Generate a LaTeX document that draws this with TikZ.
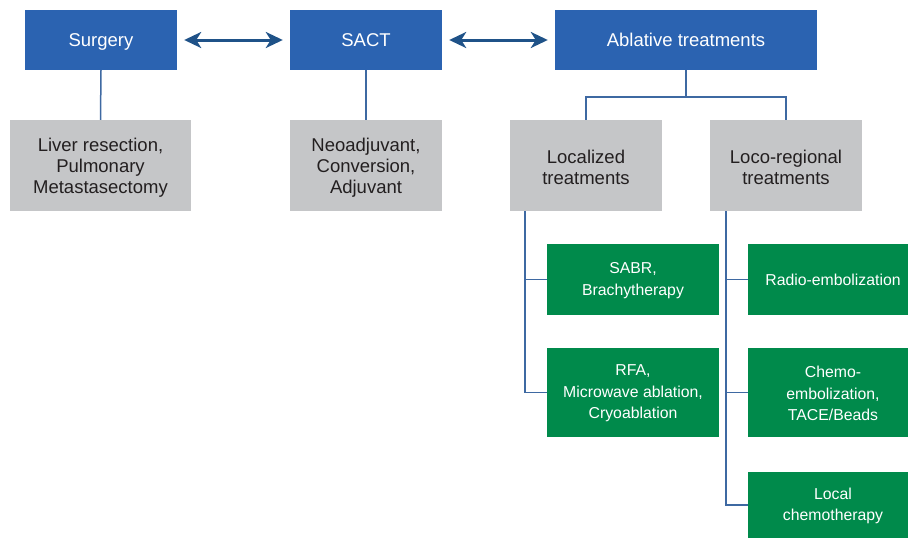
\documentclass[tikz,border=0pt]{standalone}
\usepackage{fontspec}
\setmainfont{Liberation Sans}
\usetikzlibrary{arrows.meta}
\definecolor{boxblue}{HTML}{2B63B1}
\definecolor{boxgray}{HTML}{C5C6C8}
\definecolor{boxgreen}{HTML}{008A4B}
\definecolor{linkblue}{HTML}{3E69A2}
\definecolor{arrblue}{HTML}{1F5288}
\definecolor{txtdark}{HTML}{231F20}
\tikzset{
  bluebox/.style={fill=boxblue, inner sep=0pt},
  graybox/.style={fill=boxgray, inner sep=0pt},
  greenbox/.style={fill=boxgreen, inner sep=0pt},
  bluetxt/.style={text=white, inner sep=0pt, text height=13.4pt, text depth=0pt,
    font=\fontsize{18.5}{21}\selectfont},
  graytxt/.style={text=txtdark, align=center, inner sep=0pt, yshift=-2pt,
    font=\fontsize{18.5}{21}\selectfont},
  greentxt/.style={text=white, align=center, inner sep=0pt, yshift=-1pt,
    font=\fontsize{15.8}{21.5}\selectfont},
  conn/.style={draw=linkblue, line width=1.5pt},
  dblarr/.style={draw=arrblue, line width=3pt,
    {Stealth[length=17pt,width=16pt,inset=5pt]}-{Stealth[length=17pt,width=16pt,inset=5pt]},
    shorten <=7pt, shorten >=7pt}
}
\begin{document}
\begin{tikzpicture}[x=1pt,y=-1pt]
\useasboundingbox (0,0) rectangle (908,538);
% top row
\node[bluebox, minimum width=152, minimum height=60,
  label={[bluetxt]center:Surgery}] (surg) at (101,40) {};
\node[bluebox, minimum width=152, minimum height=60,
  label={[bluetxt]center:SACT}] (sact) at (366,40) {};
\node[bluebox, minimum width=262, minimum height=60,
  label={[bluetxt]center:Ablative treatments}] (abl) at (686,40) {};
% gray row
\node[graybox, minimum width=181, minimum height=91,
  label={[graytxt]center:{Liver resection,\\Pulmonary\\Metastasectomy}}] (liver) at (100.5,165.5) {};
\node[graybox, minimum width=152, minimum height=91,
  label={[graytxt]center:{Neoadjuvant,\\Conversion,\\Adjuvant}}] (neo) at (366,165.5) {};
\node[graybox, minimum width=152, minimum height=91,
  label={[graytxt]center:{Localized\\treatments}}] (loc) at (586,165.5) {};
\node[graybox, minimum width=152, minimum height=91,
  label={[graytxt]center:{Loco-regional\\treatments}}] (loco) at (786,165.5) {};
% green boxes
\node[greenbox, minimum width=172, minimum height=71,
  label={[greentxt]center:{SABR,\\Brachytherapy}}] (sabr) at (633,279.5) {};
\node[greenbox, minimum width=172, minimum height=89,
  label={[greentxt]center:{RFA,\\Microwave ablation,\\Cryoablation}}] (rfa) at (633,392.5) {};
\node[greenbox, minimum width=160, minimum height=71,
  label={[greentxt, xshift=5pt, yshift=1pt]center:{Radio-embolization}}] (radio) at (828,279.5) {};
\node[greenbox, minimum width=160, minimum height=89,
  label={[greentxt, xshift=5pt]center:{Chemo-\\embolization,\\TACE/Beads}}] (chemo) at (828,392.5) {};
\node[greenbox, minimum width=160, minimum height=66,
  label={[greentxt, xshift=5pt]center:{Local\\chemotherapy}}] (localc) at (828,505) {};
% arrows
\draw[dblarr] (surg.east) -- (sact.west);
\draw[dblarr] (sact.east) -- (abl.west);
% connectors
\draw[conn] (surg.south) -- (liver.north);
\draw[conn] (sact.south) -- (neo.north);
\draw[conn] (abl.south) -- ++(0,27) coordinate (split);
\draw[conn] (loc.north) |- (split) -| (loco.north);
\coordinate (t1) at ([xshift=15pt]loc.south west);
\coordinate (t2) at ([xshift=16pt]loco.south west);
\draw[conn] (t1) |- (sabr.west);
\draw[conn] (t1) |- (rfa.west);
\draw[conn] (t2) |- (radio.west);
\draw[conn] (t2) |- (chemo.west);
\draw[conn] (t2) |- (localc.west);
\end{tikzpicture}
\end{document}
